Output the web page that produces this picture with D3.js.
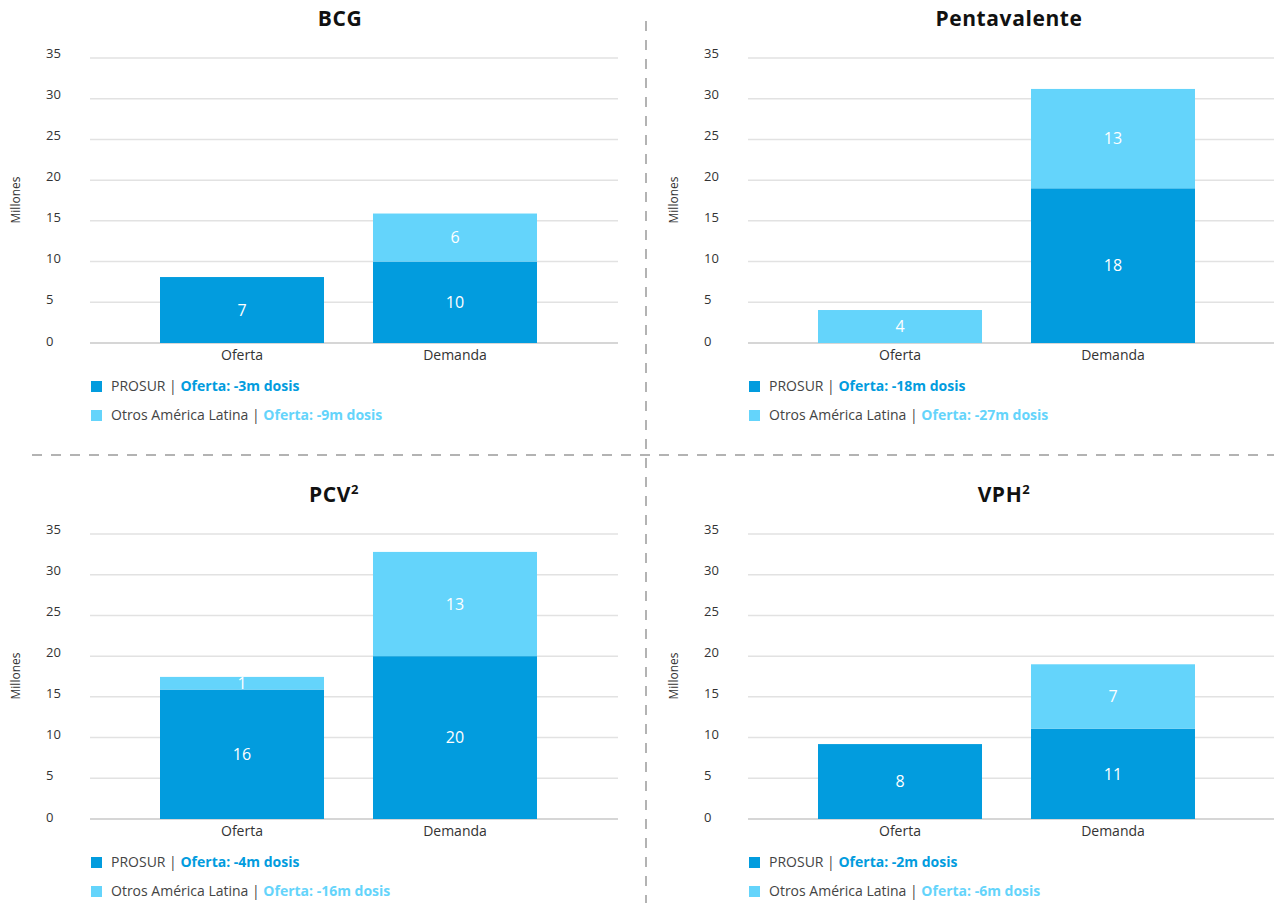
<!DOCTYPE html>
<html>
<head>
  <meta charset="utf-8">
  <title>Oferta y demanda de vacunas</title>
  <script src="https://d3js.org/d3.v7.min.js"></script>
  <style>
    body { margin: 0; background: #fff; }
    svg text { font-family: "Open Sans", "Noto Sans", sans-serif; }
  </style>
</head>
<body>
<svg width="1274" height="903"></svg>
<script>

// Panels (vaccines) and their title superscripts
var vaccines = ["BCG", "Pentavalente", "PCV", "VPH"];
var titleSup = ["", "", "2", "2"];

// Categories on the x axis and the two stacked series
var categories = ["Oferta", "Demanda"];
var seriesNames = ["PROSUR", "Otros América Latina"];

// Bar heights (millions) as drawn, per vaccine: [Oferta, Demanda]
var prosurValues = [[8.1, 10.0], [0, 19.0], [15.9, 20.0], [9.2, 11.1]];
var otrosValues  = [[0, 5.9], [4.05, 12.2], [1.55, 12.8], [0, 7.9]];

// Printed numbers inside the bars
var prosurLabels = [["7", "10"], ["", "18"], ["16", "20"], ["8", "11"]];
var otrosLabels  = [["", "6"], ["4", "13"], ["1", "13"], ["", "7"]];

// Legend supply gap per vaccine
var prosurGap = ["-3m", "-18m", "-4m", "-2m"];
var otrosGap  = ["-9m", "-27m", "-16m", "-6m"];

var yTicks = [0, 5, 10, 15, 20, 25, 30, 35];

var darkBlue = "#029cde", lightBlue = "#64d4fb";
var colors = [darkBlue, lightBlue];

var svg = d3.select("svg");

// panel offsets: left column / right column, top row / bottom row
var colShift = [0, 658], rowShift = [0, 476];
var titleX = [340, 351, 334, 346];   // titles aren't perfectly centred in the original

var stack = d3.stack().keys(["p", "o"]);

vaccines.forEach(function(name, i) {
  var dx = colShift[i % 2], dy = rowShift[Math.floor(i / 2)];
  var g = svg.append("g").attr("transform", "translate(" + dx + "," + dy + ")");

  var x = d3.scaleBand().domain(categories).range([160, 537]).paddingInner(0.23).paddingOuter(0);
  var y = d3.scaleLinear().domain([0, 35]).range([343, 58]);

  // gridlines
  g.selectAll(".grid").data(yTicks).enter().append("line")
    .attr("x1", 90).attr("x2", 618)
    .attr("y1", function(d) { return y(d); }).attr("y2", function(d) { return y(d); })
    .attr("stroke", function(d) { return d === 0 ? "#d6d6d6" : "#e2e2e2"; })
    .attr("stroke-width", function(d) { return d === 0 ? 2 : 1.5; });

  // y tick labels (left aligned, a bit above each line)
  g.selectAll(".ytick").data(yTicks).enter().append("text")
    .attr("x", 46).attr("y", function(d) { return y(d) - 2 - d / 35 * 3; })
    .attr("dy", "0.35em")
    .attr("font-size", 13).attr("fill", "#333")
    .text(function(d) { return d; });

  // axis title
  g.append("text")
    .attr("transform", "translate(20,200) rotate(-90)")
    .attr("text-anchor", "middle").attr("font-size", 12).attr("fill", "#333")
    .text("Millones");

  // chart title
  var t = g.append("text")
    .attr("x", titleX[i]).attr("y", 26)
    .attr("text-anchor", "middle").attr("font-size", 21).attr("font-weight", "bold")
    .attr("letter-spacing", 0.6).attr("fill", "#111")
    .text(name);
  if (titleSup[i]) {
    t.append("tspan").attr("dy", -8).attr("font-size", 13).text(titleSup[i]);
  }

  // stacked bars
  var rows = categories.map(function(c, j) {
    return { cat: c, p: prosurValues[i][j], o: otrosValues[i][j], lp: prosurLabels[i][j], lo: otrosLabels[i][j] };
  });
  var layers = stack(rows);

  layers.forEach(function(layer, k) {
    var segs = layer.filter(function(d) { return d[1] > d[0]; });
    g.selectAll(".bar" + k).data(segs).enter().append("rect")
      .attr("x", function(d) { return x(d.data.cat); })
      .attr("width", x.bandwidth())
      .attr("y", function(d) { return y(d[1]); })
      .attr("height", function(d) { return y(d[0]) - y(d[1]); })
      .attr("fill", colors[k]);

    g.selectAll(".lab" + k).data(segs).enter().append("text")
      .attr("x", function(d) { return x(d.data.cat) + x.bandwidth() / 2; })
      .attr("y", function(d) { return (y(d[0]) + y(d[1])) / 2; })
      .attr("dy", "0.36em")
      .attr("text-anchor", "middle").attr("font-size", 16).attr("font-weight", 500).attr("fill", "#fff")
      .text(function(d) { return k === 0 ? d.data.lp : d.data.lo; });
  });

  // category labels
  g.selectAll(".cat").data(categories).enter().append("text")
    .attr("x", function(d) { return x(d) + x.bandwidth() / 2; })
    .attr("y", 360)
    .attr("text-anchor", "middle").attr("font-size", 14).attr("fill", "#333")
    .text(function(d) { return d; });

  // legend
  var gaps = [prosurGap[i], otrosGap[i]];
  seriesNames.forEach(function(s, k) {
    var ly = 381 + k * 29;
    g.append("rect").attr("x", 91).attr("y", ly).attr("width", 11).attr("height", 11).attr("fill", colors[k]);
    var lt = g.append("text").attr("x", 111).attr("y", ly + 10).attr("font-size", 14);
    lt.append("tspan").attr("fill", "#444").text(s + " | ");
    lt.append("tspan").attr("fill", colors[k]).attr("font-weight", "bold").text("Oferta: " + gaps[k] + " dosis");
  });
});

// dashed separators between panels
svg.append("line").attr("x1", 646).attr("x2", 646).attr("y1", 21).attr("y2", 903)
  .attr("stroke", "#9a9a9a").attr("stroke-width", 1.5).attr("stroke-dasharray", "10 9");
svg.append("line").attr("x1", 32).attr("x2", 1274).attr("y1", 455).attr("y2", 455)
  .attr("stroke", "#9a9a9a").attr("stroke-width", 1.5).attr("stroke-dasharray", "10 9");

</script>
</body>
</html>
